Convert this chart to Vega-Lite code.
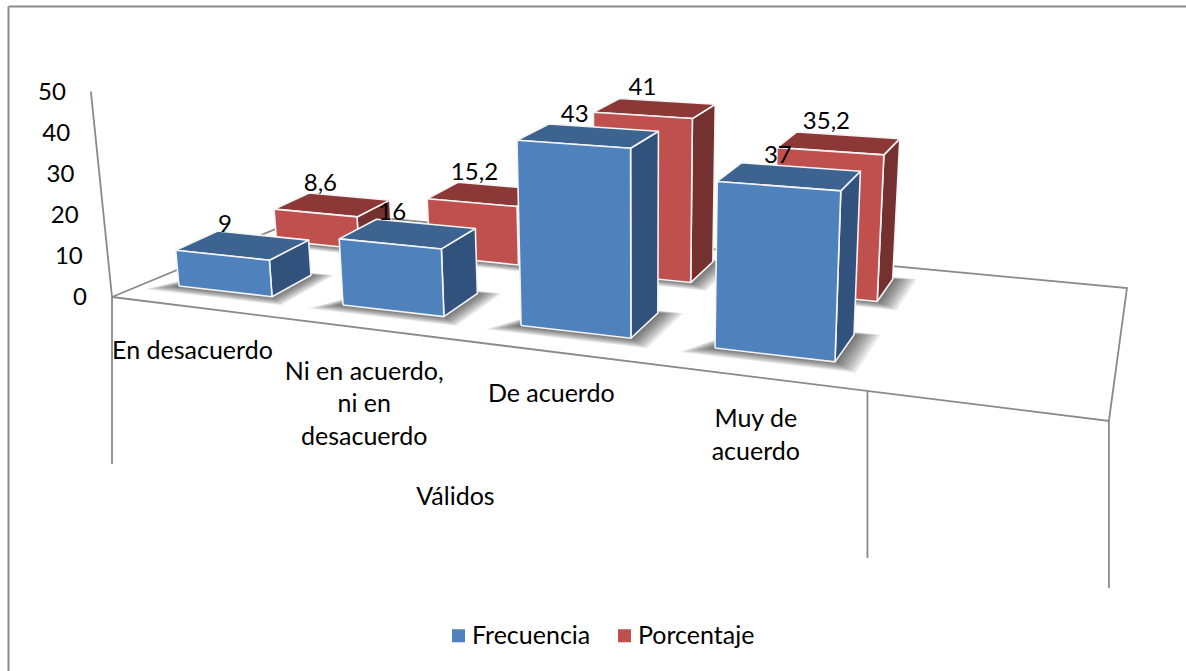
{
"$schema":"https://vega.github.io/schema/vega-lite/v6.json",
"autosize":{"type":"none"},
"padding":{"left":8,"top":6,"right":0,"bottom":0},
"width":1178,"height":665,
"background":"white",
"config":{"view":{"stroke":null},"text":{"font":"Lato","fontSize":25,"color":"#000000"}},
"datasets":{
"barras":[
{"category":"En desacuerdo","series":"Frecuencia","value":9},
{"category":"Ni en acuerdo,\nni en\ndesacuerdo","series":"Frecuencia","value":16},
{"category":"De acuerdo","series":"Frecuencia","value":43},
{"category":"Muy de\nacuerdo","series":"Frecuencia","value":37},
{"category":"En desacuerdo","series":"Porcentaje","value":8.6},
{"category":"Ni en acuerdo,\nni en\ndesacuerdo","series":"Porcentaje","value":15.2},
{"category":"De acuerdo","series":"Porcentaje","value":41},
{"category":"Muy de\nacuerdo","series":"Porcentaje","value":35.2}
],
"marco":[
{"linea":"piso","esquina":"fl"},{"linea":"piso","esquina":"fr"},{"linea":"piso","esquina":"br"},{"linea":"piso","esquina":"bl"},{"linea":"piso","esquina":"fl"},
{"linea":"eje","esquina":"fl"},{"linea":"eje","esquina":"tope"},
{"linea":"div0","esquina":"fl"},{"linea":"div0","esquina":"fl-baja"},
{"linea":"div1","esquina":"m"},{"linea":"div1","esquina":"m-baja"},
{"linea":"div2","esquina":"fr"},{"linea":"div2","esquina":"fr-baja"}
],
"ticks":[{"tick":0},{"tick":10},{"tick":20},{"tick":30},{"tick":40},{"tick":50}],
"grupo":[{"grupo":"Válidos"}]
},
"data":{"name":"barras"},
"transform":[
{"calculate":"indexof('ENDM',substring(datum.category,0,1))","as":"i"},
{"calculate":"datum.series=='Porcentaje'","as":"back"},
{"calculate":"datum.i+(datum.back?0.03:0)","as":"t0"},
{"calculate":"datum.i+0.577","as":"t1"},
{"calculate":"datum.back?2.35:0","as":"w0"},
{"calculate":"datum.back?3.35:1","as":"w1"}
],
"encoding":{
"x":{"field":"X","type":"quantitative","scale":{"domain":[8,1186],"nice":false,"zero":false},"axis":{"orient":"top","title":null,"labels":false,"ticks":false,"grid":false,"domain":true,"domainColor":"#8a8a8a","domainWidth":2}},
"y":{"field":"Y","type":"quantitative","scale":{"domain":[671,6],"nice":false,"zero":false},"axis":{"orient":"left","title":null,"labels":false,"ticks":false,"grid":false,"domain":true,"domainColor":"#8a8a8a","domainWidth":2}}
},
"layer":[
{
"data":{"name":"marco"},
"transform":[
{"window":[{"op":"row_number","as":"n"}],"groupby":["linea"]},
{"calculate":"{'fl':-0.226,'fr':4.814,'br':4.754,'bl':-0.07,'tope':-0.226,'fl-baja':-0.226,'fr-baja':4.814,'m':3.795,'m-baja':3.795}[datum.esquina]","as":"T"},
{"calculate":"{'fl':-0.695,'fr':-0.805,'br':3.95,'bl':3.95,'tope':-0.695,'fl-baja':-0.695,'fr-baja':-0.805,'m':-0.785,'m-baja':-0.785}[datum.esquina]","as":"W"},
{"calculate":"datum.esquina=='tope'?50:0","as":"v"},
{"calculate":"1-0.0394*datum.T+0.04*datum.W","as":"q"},
{"calculate":"(179+150.5*datum.T+50.5*datum.W)/datum.q","as":"X0"},
{"calculate":"datum.X0+0.0008*(datum.X0-640)*datum.v","as":"X"},
{"calculate":"(286+6.96*datum.T-10*datum.W-4.03*datum.v)/datum.q+(indexof(datum.esquina,'baja')>0?167:0)","as":"Y"}
],
"mark":{"type":"line","stroke":"#8a8a8a","strokeWidth":1.8},
"encoding":{"detail":{"field":"linea"},"order":{"field":"n","type":"quantitative"}}
},
{
"data":{"name":"ticks"},
"transform":[
{"calculate":"1-0.0394*(-0.226)+0.04*(-0.695)","as":"q"},
{"calculate":"(179+150.5*(-0.226)+50.5*(-0.695))/datum.q","as":"X0"},
{"calculate":"datum.X0+0.0008*(datum.X0-640)*datum.tick","as":"X"},
{"calculate":"(286+6.96*(-0.226)-10*(-0.695)-4.03*datum.tick)/datum.q","as":"Y"}
],
"mark":{"type":"text","align":"right","baseline":"middle","dx":-25,"dy":1.5,"fontSize":24},
"encoding":{"text":{"field":"tick","type":"quantitative"}}
},
{
"transform":[
{"calculate":"[1,0.875,0.75,0.625,0.5,0.375,0.25,0.125]","as":"nivel"},
{"flatten":["nivel"]},
{"calculate":"[{n:0,a:0,b:0},{n:1,a:1,b:0},{n:2,a:1,b:1},{n:3,a:0,b:1},{n:4,a:0,b:0}]","as":"base"},
{"flatten":["base"]},
{"calculate":"datum.base.a?datum.t1+0.12*datum.nivel:(datum.base.b?datum.t0+0.12:datum.t0-0.14*datum.nivel)","as":"T"},
{"calculate":"datum.base.b?datum.w1+0.1*datum.nivel:datum.w0-0.27*datum.nivel","as":"W"},
{"calculate":"1-0.0394*datum.T+0.04*datum.W","as":"q"},
{"calculate":"(179+150.5*datum.T+50.5*datum.W)/datum.q","as":"X"},
{"calculate":"(286+6.96*datum.T-10*datum.W)/datum.q","as":"Y"},
{"calculate":"datum.base.n","as":"n"},
{"calculate":"datum.series+datum.i+'-'+datum.nivel","as":"sombra"}
],
"mark":{"type":"line","filled":true,"fill":"#000000","fillOpacity":0.085,"strokeWidth":0},
"encoding":{"detail":{"field":"sombra"},"order":{"field":"n","type":"quantitative"}}
},
{
"transform":[
{"calculate":"[{c:'frente',n:0,a:0,b:0,u:0},{c:'frente',n:1,a:1,b:0,u:0},{c:'frente',n:2,a:1,b:0,u:1},{c:'frente',n:3,a:0,b:0,u:1},{c:'frente',n:4,a:0,b:0,u:0},{c:'lado',n:0,a:1,b:0,u:0},{c:'lado',n:1,a:1,b:1,u:0},{c:'lado',n:2,a:1,b:1,u:1},{c:'lado',n:3,a:1,b:0,u:1},{c:'lado',n:4,a:1,b:0,u:0},{c:'techo',n:0,a:0,b:0,u:1},{c:'techo',n:1,a:1,b:0,u:1},{c:'techo',n:2,a:1,b:1,u:1},{c:'techo',n:3,a:0,b:1,u:1},{c:'techo',n:4,a:0,b:0,u:1}]","as":"cubo"},
{"flatten":["cubo"]},
{"calculate":"datum.cubo.a?datum.t1:datum.t0","as":"T"},
{"calculate":"datum.cubo.b?datum.w1:datum.w0","as":"W"},
{"calculate":"datum.cubo.u*datum.value","as":"v"},
{"calculate":"1-0.0394*datum.T+0.04*datum.W","as":"q"},
{"calculate":"(179+150.5*datum.T+50.5*datum.W)/datum.q","as":"X0"},
{"calculate":"datum.X0+0.0008*(datum.X0-640)*datum.v","as":"X"},
{"calculate":"(286+6.96*datum.T-10*datum.W-3.97*datum.v)/datum.q","as":"Y"},
{"calculate":"datum.cubo.n","as":"n"},
{"calculate":"datum.cubo.c","as":"cara"},
{"calculate":"datum.series+' '+datum.cara","as":"tono"},
{"calculate":"datum.series+datum.i+datum.cara","as":"poligono"}
],
"layer":[
{
"transform":[{"filter":"datum.back && datum.cara!='frente'"}],
"mark":{"type":"line","filled":true,"stroke":"#f4f4f4","strokeWidth":1.6,"strokeJoin":"round"},
"encoding":{"detail":{"field":"poligono"},"order":{"field":"n","type":"quantitative"},
"fill":{"field":"tono","type":"nominal","legend":null,"scale":{"domain":["Frecuencia techo","Frecuencia lado","Porcentaje techo","Porcentaje lado"],"range":["#3D6491","#30527D","#8B3836","#753030"]}}}
},
{
"transform":[{"filter":"datum.back && datum.cara=='frente'"}],
"mark":{"type":"line","filled":true,"stroke":"#f4f4f4","strokeWidth":1.6,"strokeJoin":"round"},
"encoding":{"detail":{"field":"poligono"},"order":{"field":"n","type":"quantitative"},
"color":{"field":"series","type":"nominal","scale":{"domain":["Frecuencia","Porcentaje"],"range":["#4F81BD","#C0504D"]},
"legend":{"title":null,"orient":"none","legendX":438,"legendY":617,"direction":"horizontal","symbolType":"square","symbolSize":170,"symbolStrokeWidth":0,"labelFont":"Lato","labelFontSize":25,"labelColor":"#000000","labelOffset":1,"columnPadding":21}}}
},
{
"transform":[{"filter":"!datum.back && datum.cara!='frente'"}],
"mark":{"type":"line","filled":true,"stroke":"#f4f4f4","strokeWidth":1.6,"strokeJoin":"round"},
"encoding":{"detail":{"field":"poligono"},"order":{"field":"n","type":"quantitative"},
"fill":{"field":"tono","type":"nominal","legend":null,"scale":{"domain":["Frecuencia techo","Frecuencia lado","Porcentaje techo","Porcentaje lado"],"range":["#3D6491","#30527D","#8B3836","#753030"]}}}
},
{
"transform":[{"filter":"!datum.back && datum.cara=='frente'"}],
"mark":{"type":"line","filled":true,"stroke":"#f4f4f4","strokeWidth":1.6,"strokeJoin":"round"},
"encoding":{"detail":{"field":"poligono"},"order":{"field":"n","type":"quantitative"},
"color":{"field":"series","type":"nominal"}}
}
]
},
{
"transform":[
{"calculate":"datum.i+0.29","as":"T"},
{"calculate":"datum.back?2.85:0.5","as":"W"},
{"calculate":"1-0.0394*datum.T+0.04*datum.W","as":"q"},
{"calculate":"(179+150.5*datum.T+50.5*datum.W)/datum.q","as":"X0"},
{"calculate":"datum.X0+0.0008*(datum.X0-640)*datum.value+(datum.back?-10:-18+2*datum.i)","as":"X"},
{"calculate":"(286+6.96*datum.T-10*datum.W-3.97*datum.value)/datum.q-20.5","as":"Y"},
{"calculate":"replace(''+datum.value,'.',',')","as":"etiqueta"}
],
"mark":{"type":"text","align":"center","baseline":"middle","fontSize":24},
"encoding":{"text":{"field":"etiqueta","type":"nominal"}}
},
{
"transform":[
{"filter":"!datum.back"},
{"calculate":"datum.i+0.29","as":"T"},
{"calculate":"1-0.0394*datum.T+0.04*(-0.7)","as":"q"},
{"calculate":"(179+150.5*datum.T+50.5*(-0.7))/datum.q-2.5","as":"X"},
{"calculate":"(286+6.96*datum.T+7)/datum.q+52","as":"Y"}
],
"mark":{"type":"text","align":"center","baseline":"alphabetic","lineBreak":"\n","lineHeight":32.5},
"encoding":{"text":{"field":"category","type":"nominal"}}
},
{
"data":{"name":"grupo"},
"transform":[
{"calculate":"1-0.0394*1.785+0.04*(-0.75)","as":"q"},
{"calculate":"(179+150.5*1.785+50.5*(-0.75))/datum.q","as":"X"},
{"calculate":"(286+6.96*1.785+7.5)/datum.q+157","as":"Y"}
],
"mark":{"type":"text","align":"center","baseline":"middle"},
"encoding":{"text":{"field":"grupo","type":"nominal"}}
}
]
}
